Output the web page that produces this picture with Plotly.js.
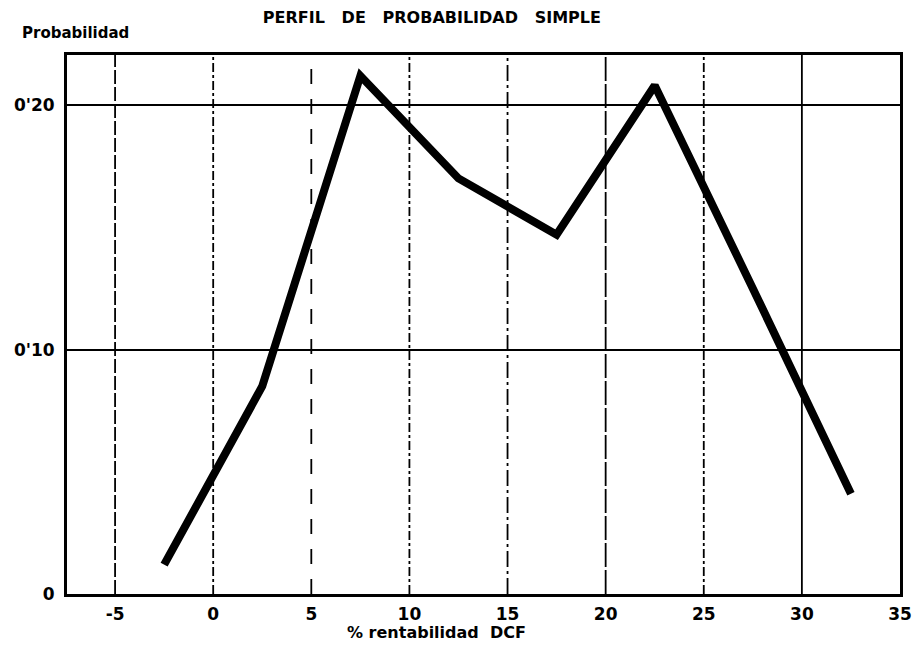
<!DOCTYPE html>
<html>
<head>
<meta charset="utf-8">
<script src="https://cdn.plot.ly/plotly-3.0.1.min.js"></script>
<style>html,body{margin:0;padding:0;background:#fff;}#chart{width:917px;height:658px;}</style>
</head>
<body>
<div id="chart"></div>
<script>
const rentabilidad = [-2.5, 2.5, 7.5, 12.5, 17.5, 22.5, 27.5, 32.5];
const probabilidad = [0.012, 0.085, 0.212, 0.170, 0.147, 0.208, 0.125, 0.041];
const xTicks = [-5, 0, 5, 10, 15, 20, 25, 30, 35];
const gridX = [-5, 0, 5, 10, 15, 20, 25, 30];
const gridDash = ['14px,3px', 'dashdot', 'longdash', 'dashdot', '16px,4px,3px,4px', '24px,3px', 'dashdot', 'solid'];
const yTicks = [0, 0.10, 0.20];
const yTickText = ["0", "0'10", "0'20"];

const FONT = "DejaVu Sans, Liberation Sans, sans-serif";

const trace = {
  x: rentabilidad,
  y: probabilidad,
  type: 'scatter',
  mode: 'lines',
  line: {color: '#000', width: 8},
  hoverinfo: 'skip'
};

const shapes = gridX.map((v, i) => ({
  type: 'line', xref: 'x', yref: 'paper',
  x0: v, x1: v, y0: 0, y1: 1,
  line: {color: '#000', width: 1.8, dash: gridDash[i]},
  layer: 'below'
}));

const layout = {
  width: 917, height: 658,
  margin: {l: 67, r: 17, t: 55, b: 64},
  paper_bgcolor: '#fff', plot_bgcolor: '#fff',
  showlegend: false,
  font: {family: FONT, color: '#000'},
  title: {
    text: '<b>PERFIL   DE   PROBABILIDAD   SIMPLE</b>',
    font: {family: FONT, size: 16, color: '#000'},
    xref: 'container', yref: 'container',
    x: 0.471, xanchor: 'center', y: 0.973, yanchor: 'middle'
  },
  xaxis: {
    range: [-7.45, 35],
    tickvals: xTicks,
    ticktext: xTicks.map(String),
    tickfont: {family: FONT, size: 17, color: '#000', weight: 'bold'},
    ticks: '',
    ticklabelstandoff: 3,
    showgrid: false,
    showline: true, linecolor: '#000', linewidth: 3, mirror: true,
    zeroline: false
  },
  yaxis: {
    range: [0, 0.2205],
    tickvals: yTicks,
    ticktext: yTickText,
    tickfont: {family: FONT, size: 17, color: '#000', weight: 'bold'},
    ticks: '',
    ticklabelstandoff: 6,
    showgrid: true, gridcolor: '#000', gridwidth: 2,
    showline: true, linecolor: '#000', linewidth: 3, mirror: true,
    zeroline: false
  },
  shapes: shapes,
  annotations: [{
    text: '<b>Probabilidad</b>',
    xref: 'paper', yref: 'paper',
    x: -0.057, y: 1.04, xanchor: 'left', yanchor: 'middle',
    showarrow: false,
    font: {family: FONT, size: 15, color: '#000'}
  }, {
    text: '<b>% rentabilidad  DCF</b>',
    xref: 'paper', yref: 'paper',
    x: 0.444, y: -0.072, xanchor: 'center', yanchor: 'middle',
    showarrow: false,
    font: {family: FONT, size: 16, color: '#000'}
  }]
};

Plotly.newPlot('chart', [trace], layout, {displayModeBar: false, staticPlot: true});
</script>
</body>
</html>
